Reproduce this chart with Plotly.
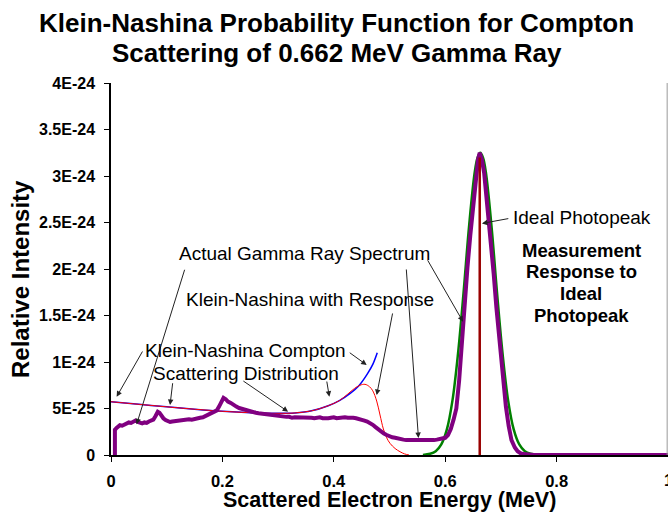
import plotly.graph_objects as go

S = 1e-24  # values below are in units of 1E-24

# Klein-Nishina Compton distribution (blue)
kn_e = [0.0, 0.05, 0.10, 0.15, 0.20, 0.25, 0.30, 0.33, 0.36, 0.39, 0.41,
        0.43, 0.445, 0.46, 0.47, 0.478]
kn_v = [0.573, 0.545, 0.518, 0.492, 0.470, 0.455, 0.448, 0.452, 0.475, 0.530, 0.585,
        0.665, 0.745, 0.870, 0.975, 1.10]

# Klein-Nishina with detector response (red)
knr_e = [0.0, 0.05, 0.10, 0.15, 0.20, 0.25, 0.30, 0.33, 0.36, 0.39, 0.41,
         0.425, 0.437, 0.447, 0.456, 0.464, 0.470, 0.477, 0.483, 0.489, 0.495,
         0.501, 0.510, 0.519, 0.527, 0.535]
knr_v = [0.573, 0.545, 0.518, 0.492, 0.470, 0.455, 0.448, 0.452, 0.475, 0.530, 0.585,
         0.655, 0.715, 0.750, 0.760, 0.735, 0.690, 0.580, 0.430, 0.280, 0.185,
         0.125, 0.070, 0.035, 0.012, 0.0]

# measurement response to the ideal photopeak (green)
resp_e = [0.560, 0.573, 0.583, 0.593, 0.603, 0.613, 0.623, 0.633, 0.643, 0.653, 0.658,
          0.663, 0.668, 0.673, 0.683, 0.693, 0.703, 0.713, 0.723, 0.733, 0.743,
          0.753, 0.770]
resp_v = [0.0, 0.013, 0.040, 0.113, 0.275, 0.585, 1.09, 1.75, 2.47, 3.04, 3.195,
          3.25, 3.195, 3.04, 2.47, 1.75, 1.09, 0.585, 0.275, 0.113, 0.040,
          0.013, 0.0]

# actual gamma ray spectrum (purple)
spec_e = [0.007, 0.007, 0.010, 0.013, 0.016, 0.020, 0.024, 0.028, 0.032, 0.036, 0.040,
          0.044, 0.048, 0.052, 0.056, 0.060, 0.064, 0.068, 0.072, 0.076, 0.080,
          0.084, 0.087, 0.090, 0.094, 0.098, 0.102, 0.106, 0.110, 0.115, 0.120,
          0.125, 0.130, 0.135, 0.140, 0.145, 0.150, 0.155, 0.160, 0.165, 0.170,
          0.175, 0.180, 0.185, 0.190, 0.194, 0.198, 0.202, 0.206, 0.210, 0.215,
          0.220, 0.225, 0.230, 0.235, 0.240, 0.245, 0.250, 0.255, 0.260, 0.265,
          0.270, 0.275, 0.280, 0.285, 0.290, 0.295, 0.300, 0.305, 0.310, 0.315,
          0.320, 0.325, 0.330, 0.335, 0.340, 0.345, 0.350, 0.355, 0.360, 0.365,
          0.370, 0.375, 0.380, 0.385, 0.390, 0.395, 0.400, 0.405, 0.410, 0.415,
          0.420, 0.425, 0.430, 0.435, 0.440, 0.445, 0.450, 0.455, 0.460, 0.465,
          0.470, 0.475, 0.480, 0.485, 0.490, 0.495, 0.500, 0.505, 0.510, 0.515,
          0.520, 0.525, 0.530, 0.535, 0.540, 0.545, 0.550, 0.555, 0.560, 0.565,
          0.570, 0.575, 0.580, 0.585, 0.590, 0.595, 0.600, 0.605, 0.610, 0.615,
          0.620, 0.625, 0.630, 0.635, 0.640, 0.645, 0.650, 0.655, 0.659, 0.662,
          0.666, 0.670, 0.676, 0.682, 0.687, 0.692, 0.697, 0.703, 0.709, 0.714,
          0.719, 0.725, 0.730, 0.735, 0.740, 0.750, 0.760, 1.000]
spec_v = [0.0, 0.27, 0.29, 0.31, 0.32, 0.315, 0.33, 0.34, 0.35, 0.345, 0.36,
          0.37, 0.355, 0.345, 0.34, 0.35, 0.345, 0.36, 0.37, 0.38, 0.42,
          0.465, 0.455, 0.42, 0.395, 0.375, 0.365, 0.355, 0.36, 0.365, 0.37,
          0.365, 0.375, 0.38, 0.385, 0.38, 0.39, 0.395, 0.40, 0.405, 0.42,
          0.43, 0.445, 0.455, 0.48, 0.52, 0.58, 0.615, 0.60, 0.575, 0.56,
          0.535, 0.52, 0.505, 0.495, 0.485, 0.475, 0.47, 0.465, 0.455, 0.45,
          0.445, 0.44, 0.435, 0.43, 0.425, 0.425, 0.42, 0.415, 0.415, 0.41,
          0.41, 0.40, 0.405, 0.405, 0.40, 0.405, 0.40, 0.41, 0.40, 0.395,
          0.40, 0.405, 0.395, 0.39, 0.395, 0.40, 0.405, 0.395, 0.40, 0.41,
          0.405, 0.40, 0.405, 0.40, 0.395, 0.39, 0.38, 0.37, 0.36, 0.345,
          0.325, 0.30, 0.275, 0.25, 0.23, 0.215, 0.20, 0.19, 0.185, 0.175,
          0.17, 0.165, 0.16, 0.16, 0.155, 0.15, 0.155, 0.15, 0.155, 0.15,
          0.155, 0.16, 0.16, 0.165, 0.17, 0.175, 0.185, 0.215, 0.28, 0.38,
          0.50, 0.80, 1.24, 1.62, 2.02, 2.36, 2.67, 2.98, 3.18, 3.25,
          3.17, 3.03, 2.67, 2.28, 1.95, 1.58, 1.24, 0.85, 0.52, 0.31,
          0.16, 0.08, 0.04, 0.02, 0.01, 0.005, 0.0, 0.0]

# ideal photopeak (dark red line)
ideal_e = [0.662, 0.662]
ideal_v = [0.0, 3.2]

y_tickvals = [0, 0.5, 1.0, 1.5, 2.0, 2.5, 3.0, 3.5, 4.0]
y_ticktext = ["0", "5E-25", "1E-24", "1.5E-24", "2E-24", "2.5E-24", "3E-24", "3.5E-24", "4E-24"]
x_tickvals = [0, 0.2, 0.4, 0.6, 0.8]
x_ticktext = ["0", "0.2", "0.4", "0.6", "0.8"]

FONT = "Liberation Sans, Arial, sans-serif"

fig = go.Figure()
fig.add_trace(go.Scatter(x=kn_e, y=[v * S for v in kn_v], mode="lines",
                         line=dict(color="#0000FF", width=1.5, shape="spline")))
fig.add_trace(go.Scatter(x=knr_e, y=[v * S for v in knr_v], mode="lines",
                         line=dict(color="#FF0000", width=1, shape="spline")))
fig.add_trace(go.Scatter(x=resp_e, y=[v * S for v in resp_v], mode="lines",
                         line=dict(color="#008000", width=2.5, shape="spline")))
fig.add_trace(go.Scatter(x=spec_e, y=[v * S for v in spec_v], mode="lines",
                         line=dict(color="#800080", width=4)))
fig.add_trace(go.Scatter(x=ideal_e, y=[v * S for v in ideal_v], mode="lines",
                         line=dict(color="#990000", width=2.5)))

# arrows: (tail_e, tail_v, tip_e, tip_v)
arrows = [
    (0.058, 1.129, 0.0102, 0.627),
    (0.133, 2.008, 0.046, 0.330),
    (0.111, 0.788, 0.106, 0.538),
    (0.235, 0.806, 0.318, 0.466),
    (0.387, 0.806, 0.392, 0.627),
    (0.426, 1.111, 0.459, 0.968),
    (0.506, 1.538, 0.477, 0.645),
    (0.530, 2.011, 0.552, 0.183),
    (0.567, 2.110, 0.632, 1.433),
    (0.716, 2.545, 0.666, 2.490),
]
annotations = []
for te, tv, he, hv in arrows:
    annotations.append(dict(x=he, y=hv * S, ax=te, ay=tv * S, xref="x", yref="y",
                            axref="x", ayref="y", text="", showarrow=True,
                            arrowhead=2, arrowsize=1.1, arrowwidth=1, arrowcolor="#222222",
                            standoff=0, startstandoff=0))

labels = [
    ("Actual Gamma Ray Spectrum", 0.348, 2.169, False),
    ("Klein-Nashina with Response", 0.357, 1.667, False),
    ("Klein-Nashina Compton", 0.241, 1.122, False),
    ("Scattering Distribution", 0.242, 0.878, False),
    ("Ideal Photopeak", 0.846, 2.556, False),
    ("Measurement", 0.844, 2.197, True),
    ("Response to", 0.844, 1.971, True),
    ("Ideal", 0.844, 1.738, True),
    ("Photopeak", 0.844, 1.505, True),
]
for txt, e, v, bold in labels:
    annotations.append(dict(x=e, y=v * S, xref="x", yref="y", showarrow=False,
                            text=f"<b>{txt}</b>" if bold else txt,
                            font=dict(family=FONT, size=18.5 if bold else 19, color="black"),
                            xanchor="center", yanchor="middle"))

# last x tick label, cut by the right edge as in the original
annotations.append(dict(x=1.0, y=(455 - 480) / 372, xref="paper", yref="paper",
                        text="<b>1</b>", showarrow=False,
                        font=dict(family=FONT, size=16.5, color="black"),
                        xanchor="center", yanchor="middle"))

# titles
annotations.append(dict(x=0.405, y=(455 - 23) / 372, xref="paper", yref="paper",
                        text="<b>Klein-Nashina Probability Function for Compton</b>",
                        showarrow=False, font=dict(family=FONT, size=26, color="black"),
                        xanchor="center", yanchor="middle"))
annotations.append(dict(x=0.405, y=(455 - 53) / 372, xref="paper", yref="paper",
                        text="<b>Scattering of 0.662 MeV Gamma Ray</b>",
                        showarrow=False, font=dict(family=FONT, size=26, color="black"),
                        xanchor="center", yanchor="middle"))
annotations.append(dict(x=0.5, y=(455 - 500) / 372, xref="paper", yref="paper",
                        text="<b>Scattered Electron Energy (MeV)</b>",
                        showarrow=False, font=dict(family=FONT, size=21.5, color="black"),
                        xanchor="center", yanchor="middle"))
annotations.append(dict(x=(20 - 111) / 557, y=(455 - 279) / 372, xref="paper", yref="paper",
                        text="<b>Relative Intensity</b>", textangle=-90,
                        showarrow=False, font=dict(family=FONT, size=24, color="black"),
                        xanchor="center", yanchor="middle"))

fig.update_layout(
    width=668, height=512,
    margin=dict(l=111, r=0, t=83, b=57),
    paper_bgcolor="white", plot_bgcolor="white",
    showlegend=False,
    annotations=annotations,
    shapes=[dict(type="line", xref="paper", yref="paper", x0=0.9985, x1=0.9985,
                 y0=0, y1=1, line=dict(color="#999999", width=1))],
)
fig.update_xaxes(range=[0, 1], tickvals=x_tickvals, ticktext=x_ticktext,
                 showgrid=False, zeroline=False, showline=True, linecolor="black",
                 linewidth=1.5, ticks="outside", ticklen=5, tickcolor="black",
                 tickfont=dict(family=FONT, size=16.5, color="black", weight="bold"),
                 layer="below traces", ticklabelstandoff=5)
fig.update_yaxes(range=[0, 4e-24], tickvals=[v * S for v in y_tickvals], ticktext=y_ticktext,
                 showgrid=False, zeroline=False, showline=True, linecolor="black",
                 linewidth=1.5, ticks="outside", ticklen=5, tickcolor="black",
                 tickfont=dict(family=FONT, size=16, color="black", weight="bold"),
                 layer="below traces", ticklabelstandoff=6)
fig.update_traces(hoverinfo="skip")
fig.write_html("out.html", config={"displayModeBar": False},
               post_script="document.body.style.margin='0';document.body.style.padding='0';"
                           "document.body.style.overflow='hidden';")
